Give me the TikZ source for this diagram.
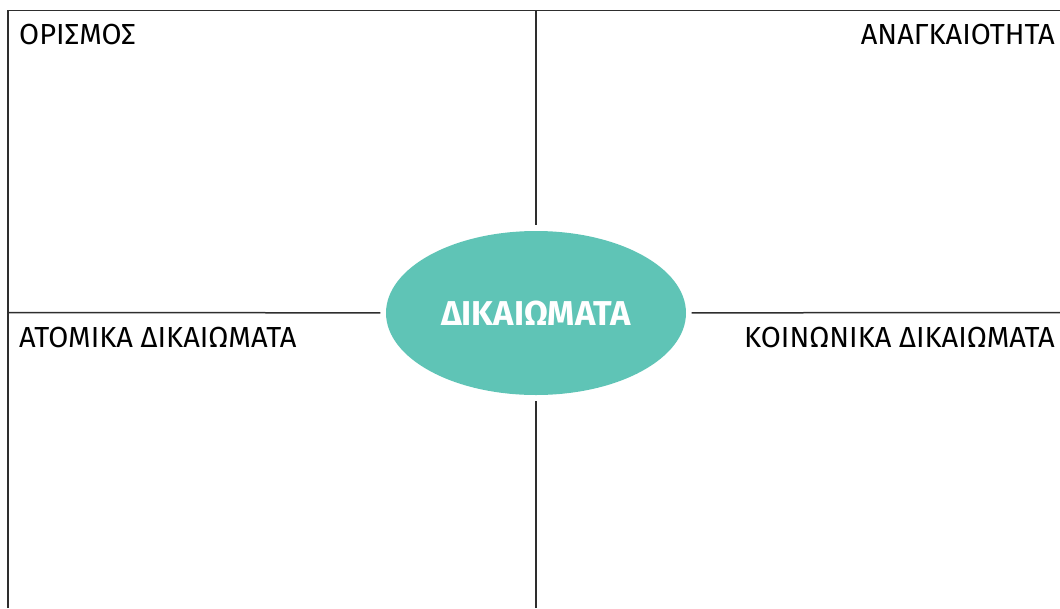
\documentclass[tikz,border=0pt]{standalone}
\usepackage{fontspec}
\setmainfont{Fira Sans}
\usetikzlibrary{shapes.geometric}
\definecolor{teal}{HTML}{5FC4B6}
\definecolor{rule}{HTML}{2E2E2E}
\tikzset{
  rulel/.style={draw=rule, line width=1.5pt},
  lbl/.style={inner sep=0pt, font=\fontsize{29}{33}\selectfont, text=black},
  hub/.style={ellipse, fill=teal, minimum width=300pt, minimum height=164pt, inner sep=0pt,
    text=white, font=\fontsize{34.5}{38}\selectfont\bfseries}
}
\begin{document}
\begin{tikzpicture}[x=1pt,y=-1pt]
\useasboundingbox (0,0) rectangle (1060,608);
\node[hub] (e) at (536,313) {\raisebox{-2.5pt}{ΔΙΚΑΙΩΜΑΤΑ}};
\coordinate (tl) at (8,10.5);
\coordinate (tr) at (1060,10.5);
\coordinate (bl) at (8,608);
\coordinate (ct) at (536,10.5);
\coordinate (cb) at (536,608);
\coordinate (ml) at (8,312.5);
\coordinate (mr) at (1060,312.5);
\draw[rulel] (bl) -- (tl) -- (tr);
\draw[rulel, shorten >=5.5pt] (ct) -- (e);
\draw[rulel, shorten >=5.5pt] (cb) -- (e);
\draw[rulel, shorten >=5.5pt] (ml) -- (e);
\draw[rulel, shorten >=5.5pt] (mr) -- (e);
\node[lbl, anchor=base west] (orismos) at (19,44) {ΟΡΙΣΜΟΣ};
\node[lbl, anchor=base east] (anagk) at (1055,44) {ΑΝΑΓΚΑΙΟΤΗΤΑ};
\node[lbl, anchor=base west] (atom) at (19,347) {ΑΤΟΜΙΚΑ ΔΙΚΑΙΩΜΑΤΑ};
\node[lbl, anchor=base east] (koin) at (1055,347) {ΚΟΙΝΩΝΙΚΑ ΔΙΚΑΙΩΜΑΤΑ};
\end{tikzpicture}
\end{document}
